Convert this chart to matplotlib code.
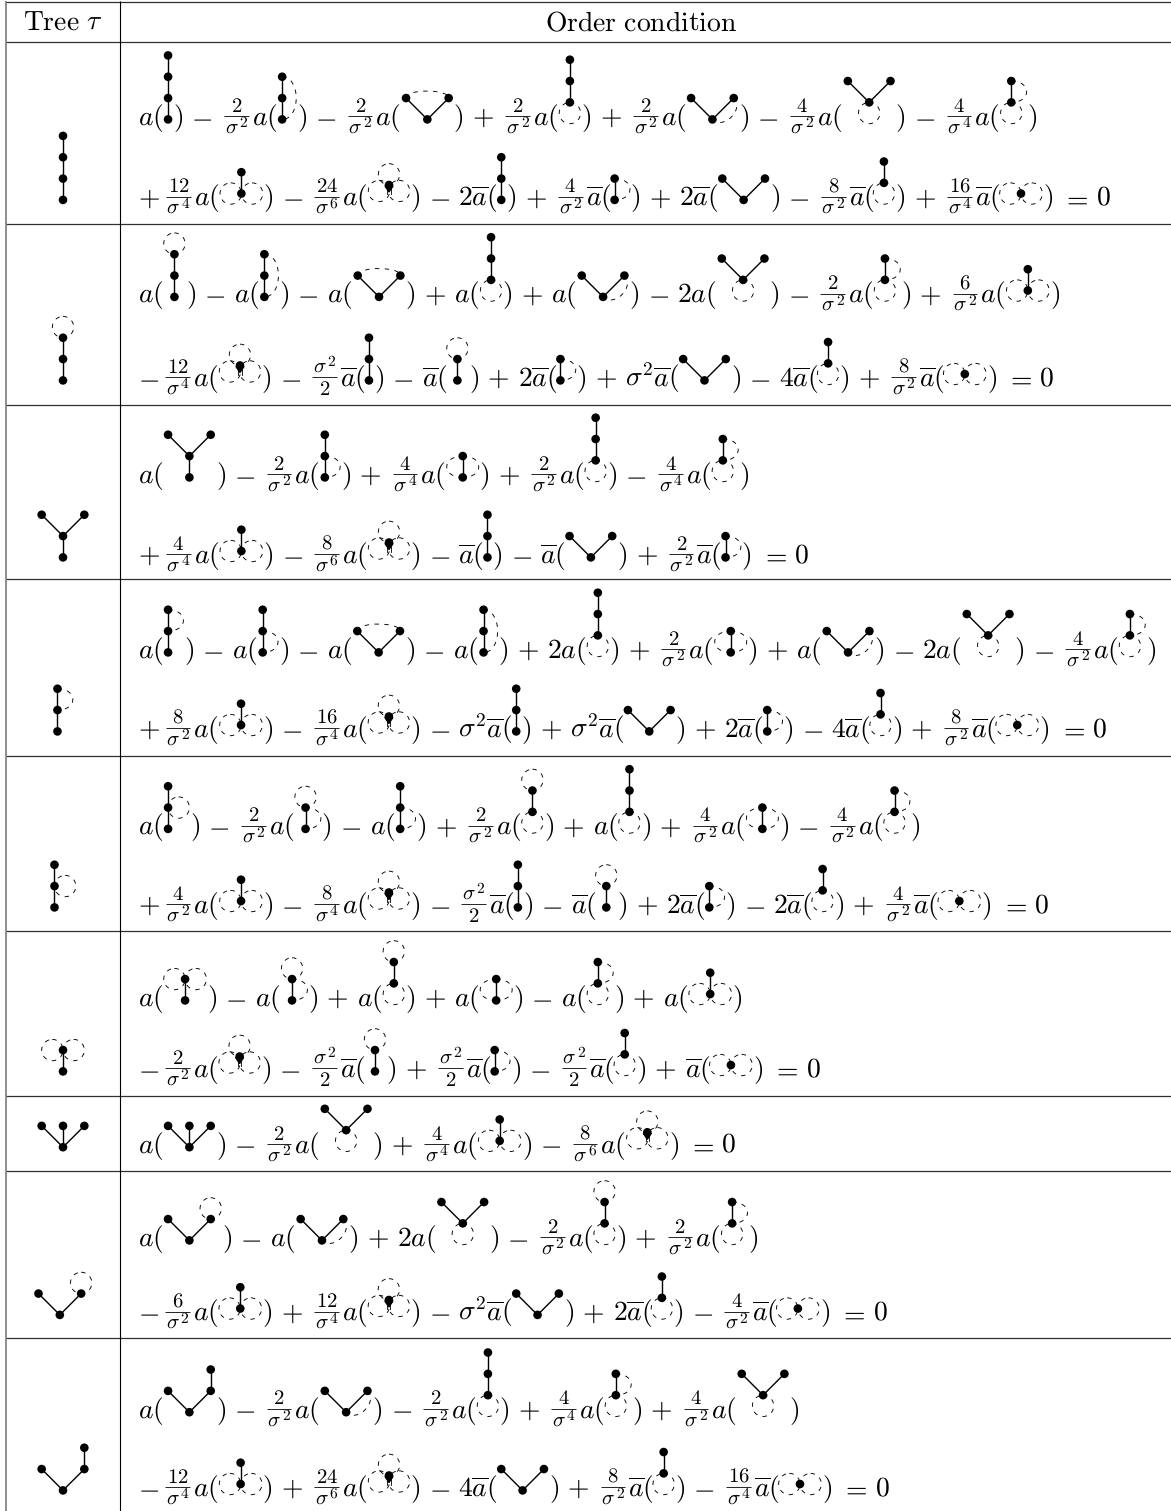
#!/usr/bin/env python
import matplotlib
matplotlib.use("Agg")
import matplotlib.pyplot as plt
from matplotlib.patches import Circle, PathPatch
from matplotlib.path import Path

plt.rcParams['mathtext.fontset'] = 'cm'
plt.rcParams['lines.scale_dashes'] = False
plt.rcParams['patch.antialiased'] = True
plt.rcParams['text.hinting'] = 'none'

FS = 19.9     # font size, pt at dpi 100
FRAC_SCALE = 0.75
SUP_SCALE = 0.56
U = 21.33     # tree unit in pixels
NODE_R = 4.3
LOOP_R = 0.5  # in tree units
PAD = 0.5
OP_GAP = 8.5
LEAD_GAP = 3.5
NULL_DELIM = 3.0
BAR_TRIM = 1.5  # mathtext makes \overline{a} a little wider than TeX

# trees: nodes, edges (index pairs), loop centres, arcs (from, to, bulge)
C4 = [(0, 0), (0, 1), (0, 2), (0, 3)]
C3 = [(0, 0), (0, 1), (0, 2)]
C2 = [(0, 0), (0, 1)]
V = [(0, 0), (-1, 1), (1, 1)]
chain3_e = [(0, 1), (1, 2)]
chain4_e = [(0, 1), (1, 2), (2, 3)]
v_e = [(0, 1), (0, 2)]

TREES = {
    'c4': dict(nodes=C4, edges=chain4_e),
    'c3': dict(nodes=C3, edges=chain3_e),
    'c3_long': dict(nodes=C3, edges=chain3_e, arcs=[((0, 2), (0, 0), 0.66)]),
    'c3_top': dict(nodes=C3, edges=chain3_e, arcs=[((0, 2), (0, 1), 0.72)]),
    'c3_bot': dict(nodes=C3, edges=chain3_e, arcs=[((0, 1), (0, 0), 0.72)]),
    'c3_side': dict(nodes=C3, edges=chain3_e, loops=[(0.5, 1)]),
    'c3_toploop': dict(nodes=C3, edges=chain3_e, loops=[(0, 2.5)]),
    'c3_under': dict(nodes=C3, edges=chain3_e, loops=[(0, -0.5)]),
    'c2_arc': dict(nodes=C2, edges=[(0, 1)], arcs=[((0, 1), (0, 0), 0.72)]),
    'c2_under': dict(nodes=C2, edges=[(0, 1)], loops=[(0, -0.5)]),
    'c2_arc_under': dict(nodes=C2, edges=[(0, 1)], loops=[(0, -0.5)],
                         arcs=[((0, 1), (0, 0), 0.72)]),
    'c2_both': dict(nodes=C2, edges=[(0, 1)],
                    arcs=[((0, 1), (0, 0), 0.75), ((0, 0), (0, 1), 0.75)]),
    'c2_top': dict(nodes=C2, edges=[(0, 1)], loops=[(0, 1.5)]),
    'c2_top_arc': dict(nodes=C2, edges=[(0, 1)], loops=[(0, 1.5)],
                       arcs=[((0, 1), (0, 0), 0.72)]),
    'c2_top_under': dict(nodes=C2, edges=[(0, 1)], loops=[(0, 1.5), (0, -0.5)]),
    'c2_two': dict(nodes=C2, edges=[(0, 1)], loops=[(-0.5, 0), (0.5, 0)]),
    'c2_twotop': dict(nodes=C2, edges=[(0, 1)], loops=[(-0.5, 1), (0.5, 1)]),
    'one_two': dict(nodes=[(0, 0)], edges=[], loops=[(-0.5, 0), (0.5, 0)]),
    'one_three': dict(nodes=[(0, 0), (0, -0.9)], edges=[], loops=[(0, 0.5), (-0.47, -0.28), (0.47, -0.28)],
                      stubs=True, node_r=[NODE_R, 0]),
    'v': dict(nodes=V, edges=v_e),
    'v_tips': dict(nodes=V, edges=v_e, arcs=[((-1, 1), (1, 1), 0.33)]),
    'v_right': dict(nodes=V, edges=v_e, arcs=[((1, 1), (0, 0), 0.55)]),
    'v_under': dict(nodes=V, edges=v_e, loops=[(0, -0.5)]),
    'v_loop': dict(nodes=V, edges=v_e, loops=[(1, 1.5)]),
    'v_ext': dict(nodes=[(0, 0), (-1, 1), (1, 1), (1, 2)], edges=[(0, 1), (0, 2), (2, 3)]),
    'y': dict(nodes=[(0, 0), (0, 1), (-1, 2), (1, 2)], edges=[(0, 1), (1, 2), (1, 3)]),
    'w': dict(nodes=[(0, 0), (-1, 1), (0, 1), (1, 1)], edges=[(0, 1), (0, 2), (0, 3)]),
}

A = "a"
B = r"\overline{a}"
# fractions are written numerator|denominator|rest, a ^ in them is set by hand
S2 = r"%s|\sigma^2|"
S4 = r"%s|\sigma^4|"
S6 = r"%s|\sigma^6|"
H2 = r"\sigma^2|2|"
SQ = r"\sigma^2"

# (sign, coefficient, tree)
ROW1_A = [("", A, 'c4'), ("-", S2 % 2 + A, 'c3_long'), ("-", S2 % 2 + A, 'v_tips'),
          ("+", S2 % 2 + A, 'c3_under'), ("+", S2 % 2 + A, 'v_right'),
          ("-", S2 % 4 + A, 'v_under'), ("-", S4 % 4 + A, 'c2_arc_under')]
ROW1_B = [("+", S4 % 12 + A, 'c2_two'), ("-", S6 % 24 + A, 'one_three'), ("-", "2" + B, 'c3'),
          ("+", S2 % 4 + B, 'c2_arc'), ("+", "2" + B, 'v'), ("-", S2 % 8 + B, 'c2_under'),
          ("+", S4 % 16 + B, 'one_two')]
ROW2_A = [("", A, 'c3_toploop'), ("-", A, 'c3_long'), ("-", A, 'v_tips'), ("+", A, 'c3_under'),
          ("+", A, 'v_right'), ("-", "2" + A, 'v_under'), ("-", S2 % 2 + A, 'c2_arc_under'),
          ("+", S2 % 6 + A, 'c2_two')]
ROW2_B = [("-", S4 % 12 + A, 'one_three'), ("-", H2 + B, 'c3'), ("-", B, 'c2_top'),
          ("+", "2" + B, 'c2_arc'), ("+", SQ + B, 'v'), ("-", "4" + B, 'c2_under'),
          ("+", S2 % 8 + B, 'one_two')]
ROW3_A = [("", A, 'y'), ("-", S2 % 2 + A, 'c3_bot'), ("+", S4 % 4 + A, 'c2_both'),
          ("+", S2 % 2 + A, 'c3_under'), ("-", S4 % 4 + A, 'c2_arc_under')]
ROW3_B = [("+", S4 % 4 + A, 'c2_two'), ("-", S6 % 8 + A, 'one_three'), ("-", B, 'c3'),
          ("-", B, 'v'), ("+", S2 % 2 + B, 'c2_arc')]
ROW4_A = [("", A, 'c3_top'), ("-", A, 'c3_bot'), ("-", A, 'v_tips'), ("-", A, 'c3_long'),
          ("+", "2" + A, 'c3_under'), ("+", S2 % 2 + A, 'c2_both'), ("+", A, 'v_right'),
          ("-", "2" + A, 'v_under'), ("-", S2 % 4 + A, 'c2_arc_under')]
ROW4_B = [("+", S2 % 8 + A, 'c2_two'), ("-", S4 % 16 + A, 'one_three'), ("-", SQ + B, 'c3'),
          ("+", SQ + B, 'v'), ("+", "2" + B, 'c2_arc'), ("-", "4" + B, 'c2_under'),
          ("+", S2 % 8 + B, 'one_two')]
ROW5_A = [("", A, 'c3_side'), ("-", S2 % 2 + A, 'c2_top_arc'), ("-", A, 'c3_bot'),
          ("+", S2 % 2 + A, 'c2_top_under'), ("+", A, 'c3_under'), ("+", S2 % 4 + A, 'c2_both'),
          ("-", S2 % 4 + A, 'c2_arc_under')]
ROW5_B = [("+", S2 % 4 + A, 'c2_two'), ("-", S4 % 8 + A, 'one_three'), ("-", H2 + B, 'c3'),
          ("-", B, 'c2_top'), ("+", "2" + B, 'c2_arc'), ("-", "2" + B, 'c2_under'),
          ("+", S2 % 4 + B, 'one_two')]
ROW6_A = [("", A, 'c2_twotop'), ("-", A, 'c2_top_arc'), ("+", A, 'c2_top_under'),
          ("+", A, 'c2_both'), ("-", A, 'c2_arc_under'), ("+", A, 'c2_two')]
ROW6_B = [("-", S2 % 2 + A, 'one_three'), ("-", H2 + B, 'c2_top'), ("+", H2 + B, 'c2_arc'),
          ("-", H2 + B, 'c2_under'), ("+", B, 'one_two')]
ROW7_A = [("", A, 'w'), ("-", S2 % 2 + A, 'v_under'), ("+", S4 % 4 + A, 'c2_two'),
          ("-", S6 % 8 + A, 'one_three')]
ROW8_A = [("", A, 'v_loop'), ("-", A, 'v_right'), ("+", "2" + A, 'v_under'),
          ("-", S2 % 2 + A, 'c2_top_under'), ("+", S2 % 2 + A, 'c2_arc_under')]
ROW8_B = [("-", S2 % 6 + A, 'c2_two'), ("+", S4 % 12 + A, 'one_three'), ("-", SQ + B, 'v'),
          ("+", "2" + B, 'c2_under'), ("-", S2 % 4 + B, 'one_two')]
ROW9_A = [("", A, 'v_ext'), ("-", S2 % 2 + A, 'v_right'), ("-", S2 % 2 + A, 'c3_under'),
          ("+", S4 % 4 + A, 'c2_arc_under'), ("+", S2 % 4 + A, 'v_under')]
ROW9_B = [("-", S4 % 12 + A, 'c2_two'), ("+", S6 % 24 + A, 'one_three'), ("-", "4" + B, 'v'),
          ("+", S2 % 8 + B, 'c2_under'), ("-", S4 % 16 + B, 'one_two')]

ROW_TREES = ['c4', 'c3_toploop', 'y', 'c3_top', 'c3_side', 'c2_twotop', 'w', 'v_loop', 'v_ext']
ROW_LINES = [(ROW1_A, ROW1_B), (ROW2_A, ROW2_B), (ROW3_A, ROW3_B), (ROW4_A, ROW4_B),
             (ROW5_A, ROW5_B), (ROW6_A, ROW6_B), (ROW7_A,), (ROW8_A, ROW8_B), (ROW9_A, ROW9_B)]
ROW_BASE = [(125, 205.5), (302.5, 386), (483, 563), (658, 737), (834.5, 913),
            (1006, 1077), (1152.8,), (1246, 1320.5), (1417.8, 1496)]
HLINES = [1.5, 41.5, 223.5, 404.5, 578.5, 755.5, 931, 1095.5, 1170.5, 1338]

fig = plt.figure(figsize=(11.71, 15.11), dpi=100)
ax = fig.add_axes([0, 0, 1, 1])
ax.set_xlim(0, 1171)
ax.set_ylim(1511, 0)
ax.axis('off')
renderer = fig.canvas.get_renderer()


def arc_normal(p0, p1):
    dx = p1[0] - p0[0]
    dy = p1[1] - p0[1]
    d = (dx * dx + dy * dy) ** 0.5
    return (-dy / d, dx / d)


def tree_box(t):
    xs = []
    ys = []
    radii = t.get('node_r', [NODE_R] * len(t['nodes']))
    for (x, y), r in zip(t['nodes'], radii):
        xs += [x * U - r, x * U + r]
        ys += [y * U - r, y * U + r]
    for (x, y) in t.get('loops', []):
        xs += [(x - LOOP_R) * U, (x + LOOP_R) * U]
        ys += [(y - LOOP_R) * U, (y + LOOP_R) * U]
    for p0, p1, b in t.get('arcs', []):
        n = arc_normal(p0, p1)
        xs.append(((p0[0] + p1[0]) / 2 + n[0] * b) * U)
        ys.append(((p0[1] + p1[1]) / 2 + n[1] * b) * U)
    return min(xs), max(xs), min(ys), max(ys)


def draw_tree(name, cx, bottom):
    # cx: pixel x of tree's x=0, bottom: pixel y of the lowest point of its box
    t = TREES[name]
    _, _, ymin, _ = tree_box(t)
    y0 = bottom + ymin

    def pt(x, y):
        return (cx + x * U, y0 - y * U)

    dash = (0, (3.2, 3.9))
    for (x, y) in t.get('loops', []):
        ax.add_patch(Circle(pt(x, y), LOOP_R * U, fill=False, ec='black', lw=0.65, ls=dash, zorder=2))
    for p0, p1, b in t.get('arcs', []):
        n = arc_normal(p0, p1)
        k = b / 0.75
        verts = [pt(*p0), pt(p0[0] + n[0] * k, p0[1] + n[1] * k),
                 pt(p1[0] + n[0] * k, p1[1] + n[1] * k), pt(*p1)]
        path = Path(verts, [Path.MOVETO, Path.CURVE4, Path.CURVE4, Path.CURVE4])
        ax.add_patch(PathPatch(path, fill=False, ec='black', lw=0.65, ls=dash, zorder=2))
    for i, j in t['edges']:
        a, b = pt(*t['nodes'][i]), pt(*t['nodes'][j])
        ax.plot([a[0], b[0]], [a[1], b[1]], color='black', lw=1.0, zorder=3, solid_capstyle='butt')
    if t.get('stubs'):
        # short double stem under the node of the three-loop tree
        for dx in (-1.6, 1.6):
            ax.plot([cx + dx, cx + dx], [y0, y0 + 9], color='black', lw=0.6, zorder=3)
        ax.fill([cx - 4, cx + 4, cx], [y0 + 1, y0 + 1, y0 + 7], color='black', zorder=3)
    radii = t.get('node_r', [NODE_R] * len(t['nodes']))
    for (x, y), r in zip(t['nodes'], radii):
        if r > 0:
            ax.add_patch(Circle(pt(x, y), r, fc='black', ec='none', zorder=4))


def put(s, x, y):
    txt = ax.text(x, y, "$" + s + "$", fontsize=FS, va='baseline', ha='left', color='black')
    w = txt.get_window_extent(renderer).width
    if "overline" in s:
        w -= BAR_TRIM
    return w


def put_part(s, y):
    # one level of a fraction, returns its texts (left aligned at 0 for now) and width
    base, _, sup = s.partition("^")
    t1 = ax.text(0, y, "$" + base + "$", fontsize=FS * FRAC_SCALE, va='baseline', ha='left', color='black')
    w1 = t1.get_window_extent(renderer).width
    items = [(t1, 0)]
    if sup:
        t2 = ax.text(0, y - 6.5, "$" + sup + "$", fontsize=FS * SUP_SCALE, va='baseline', ha='left', color='black')
        items.append((t2, w1 + 0.8))
        w1 += t2.get_window_extent(renderer).width + 0.8
    return items, w1


def put_frac(num, den, x, y):
    top, wt = put_part(num, y - 13.3)
    bot, wb = put_part(den, y + 8.6)
    w = max(wt, wb) + 1.0
    for items, wi in ((top, wt), (bot, wb)):
        for t, dx in items:
            t.set_x(x + (w - wi) / 2 + dx)
    ax.plot([x, x + w], [y - 8.6, y - 8.6], color='black', lw=0.6, solid_capstyle='butt')
    return w


def put_coef(coef, x, y):
    parts = coef.split("|")
    if len(parts) == 1:
        return x + put(coef + "(", x, y)
    x += NULL_DELIM
    x += put_frac(parts[0], parts[1], x, y) + NULL_DELIM
    return x + put(parts[2] + "(", x, y)


def draw_line(terms, x, base, closing=False):
    for n, (sign, coef, tree) in enumerate(terms):
        if sign:
            if n > 0:
                x += OP_GAP
            x += put("+" if sign == "+" else "-", x, base)
            x += OP_GAP if n > 0 else LEAD_GAP
        x = put_coef(coef, x, base)
        xmin, xmax, _, _ = tree_box(TREES[tree])
        draw_tree(tree, x + PAD - xmin, base - 1.3)
        x += 2 * PAD + (xmax - xmin)
        x += put(")", x, base)
    if closing:
        x += OP_GAP + 1
        x += put("=", x, base) + 1
        put("0", x + OP_GAP - 3, base)


# table rules
for y in HLINES:
    ax.plot([6, 1171], [y, y], color='#303030', lw=0.9, solid_capstyle='butt')
ax.plot([6, 6], [0.8, 1511], color='#707070', lw=1.1, solid_capstyle='butt')
ax.plot([120.3, 120.3], [1, 1511], color='black', lw=0.8, solid_capstyle='butt')

# header
ax.text(63, 31, r"$\mathrm{Tree}\ \tau$", fontsize=FS, ha='center', va='baseline')
ax.text(641, 31, r"$\mathrm{Order\ condition}$", fontsize=FS, ha='center', va='baseline')

for tree, lines, bases in zip(ROW_TREES, ROW_LINES, ROW_BASE):
    xmin, xmax, _, _ = tree_box(TREES[tree])
    draw_tree(tree, 63 - (xmin + xmax) / 2, bases[-1] - 1.3)
    for k, (terms, base) in enumerate(zip(lines, bases)):
        draw_line(terms, 137.5, base, closing=(k == len(lines) - 1))

fig.savefig("out.png", dpi=100)
